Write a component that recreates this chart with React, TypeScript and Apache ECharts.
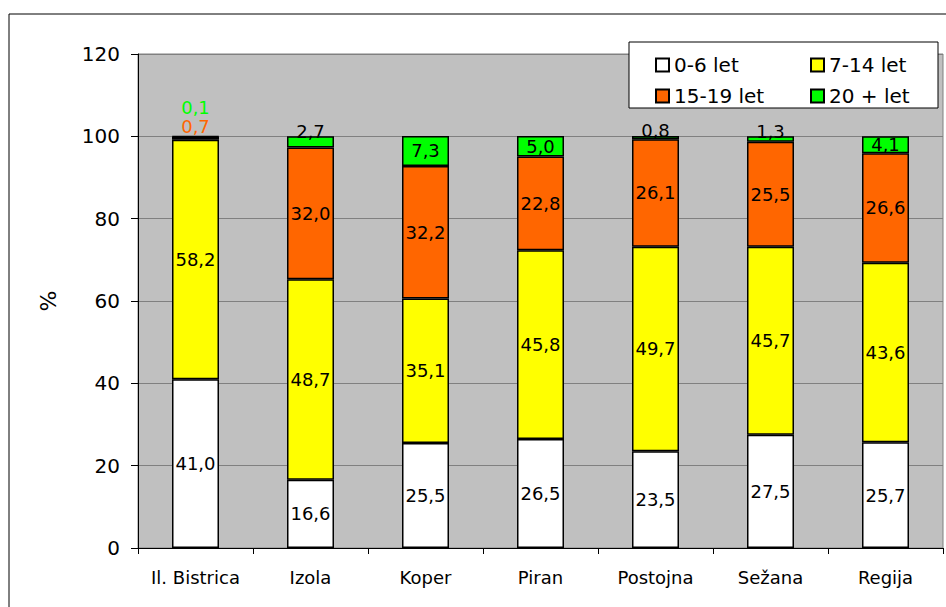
import React, { useEffect, useRef } from "react";
import * as echarts from "echarts";

const categories = ["Il. Bistrica", "Izola", "Koper", "Piran", "Postojna", "Sežana", "Regija"];
const seriesNames = ["0-6 let", "7-14 let", "15-19 let", "20 + let"];
const age0to6 = [41.0, 16.6, 25.5, 26.5, 23.5, 27.5, 25.7];
const age7to14 = [58.2, 48.7, 35.1, 45.8, 49.7, 45.7, 43.6];
const age15to19 = [0.7, 32.0, 32.2, 22.8, 26.1, 25.5, 26.6];
const age20plus = [0.1, 2.7, 7.3, 5.0, 0.8, 1.3, 4.1];
const yTicks = [0, 20, 40, 60, 80, 100, 120];

const colors = ["#FFFFFF", "#FFFF00", "#FF6600", "#00FF00"];
const FONT = "DejaVu Sans, Verdana, sans-serif";

const fmt = (v: number) => v.toFixed(1).replace(".", ",");

function labelFor(si: number, v: number) {
  const base: any = { show: true, position: "inside", color: "#000", fontSize: 18, fontFamily: FONT, formatter: () => fmt(v) };
  if (si === 3) {
    if (v < 0.5) return { ...base, position: "top", distance: 19, color: colors[3] };
    if (v < 3) return { ...base, position: "top", distance: -4 };
  }
  if (si === 2 && v < 1) return { ...base, position: "top", distance: 1, color: colors[2] };
  return base;
}

export default function App() {
  const ref = useRef<HTMLDivElement>(null);
  useEffect(() => {
    document.body.style.margin = "0";
    document.body.style.overflow = "hidden";
    const chart = echarts.init(ref.current!, null, { renderer: "svg" });
    const all = [age0to6, age7to14, age15to19, age20plus];
    chart.setOption({
      animation: false,
      graphic: [
        { type: "rect", z: 0, shape: { x: 9, y: 14, width: 960, height: 620 }, style: { fill: "none", stroke: "#000", lineWidth: 1 } },
        { type: "rect", z: 10, shape: { x: 629, y: 42, width: 309, height: 66 }, style: { fill: "#fff", stroke: "#000", lineWidth: 1 } },
      ],
      grid: {
        left: 138, top: 54, right: 3, bottom: 59,
        show: true, backgroundColor: "#C0C0C0", borderColor: "#808080", borderWidth: 1,
      },
      legend: [
        {
          data: [seriesNames[0], seriesNames[2]], orient: "vertical", left: 650, top: 50, itemGap: 11,
          itemWidth: 13, itemHeight: 13, icon: "rect", z: 11,
          textStyle: { fontSize: 20, fontFamily: FONT, color: "#000" },
        },
        {
          data: [seriesNames[1], seriesNames[3]], orient: "vertical", left: 805, top: 50, itemGap: 11,
          itemWidth: 13, itemHeight: 13, icon: "rect", z: 11,
          textStyle: { fontSize: 20, fontFamily: FONT, color: "#000" },
        },
      ],
      xAxis: {
        type: "category",
        data: categories,
        axisLine: { lineStyle: { color: "#000", width: 1 } },
        axisTick: { show: true, length: 6, lineStyle: { color: "#000" } },
        axisLabel: { interval: 0, fontSize: 18, fontFamily: FONT, color: "#000", margin: 20 },
      },
      yAxis: {
        type: "value",
        min: yTicks[0], max: yTicks[yTicks.length - 1], interval: 20,
        name: "%", nameLocation: "middle", nameGap: 79, nameRotate: 90,
        nameTextStyle: { fontSize: 22, fontFamily: FONT, color: "#000" },
        axisLine: { show: true, lineStyle: { color: "#000", width: 1 } },
        axisTick: { show: true, length: 7, lineStyle: { color: "#000" } },
        axisLabel: { fontSize: 20, fontFamily: FONT, color: "#000", margin: 18 },
        splitLine: { show: true, lineStyle: { color: "#808080", width: 1 } },
      },
      series: all.map((vals, si) => ({
        name: seriesNames[si],
        type: "bar",
        stack: "total",
        barWidth: 47,
        itemStyle: { color: colors[si], borderColor: "#000", borderWidth: 1.5 },
        data: vals.map((v) => ({ value: v, label: labelFor(si, v) })),
      })),
    });
    return () => chart.dispose();
  }, []);
  return <div ref={ref} style={{ width: 946, height: 607 }} />;
}
